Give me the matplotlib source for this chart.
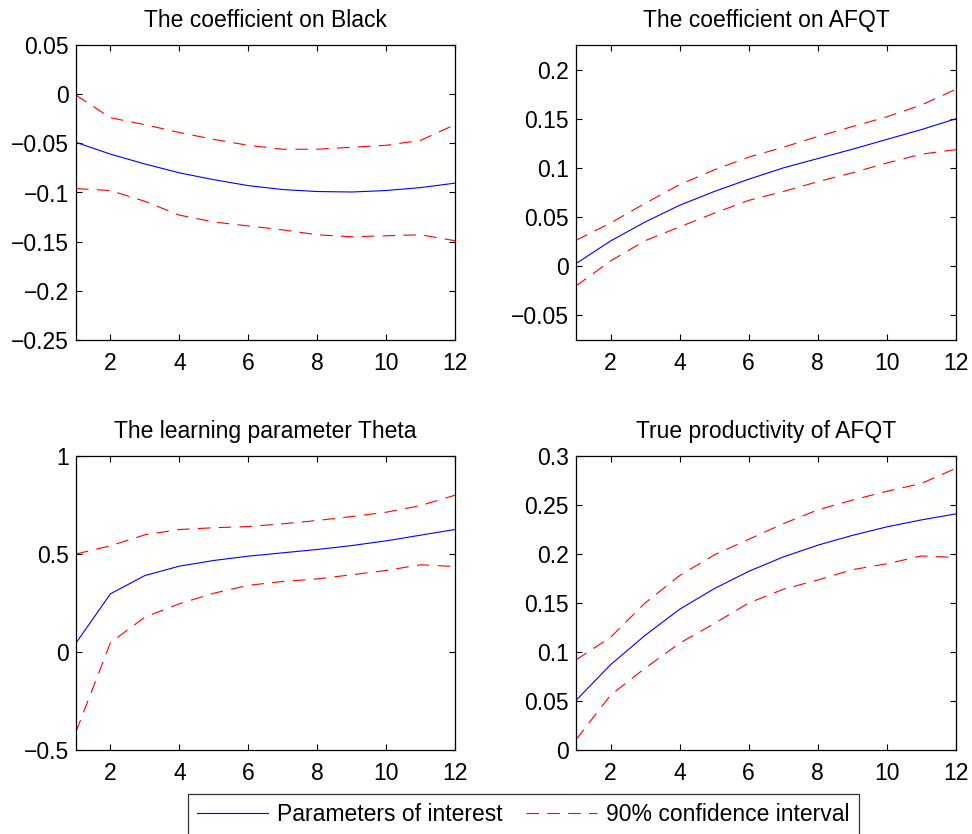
import matplotlib
matplotlib.use('Agg')
import matplotlib.pyplot as plt

plt.rcParams['font.family'] = ['Liberation Sans', 'DejaVu Sans']
plt.rcParams['lines.scale_dashes'] = False

periods = list(range(1, 13))

# The coefficient on Black
black_est = [-0.049, -0.061, -0.071, -0.080, -0.087, -0.093, -0.097, -0.099, -0.0995, -0.098, -0.095, -0.0905]
black_hi = [-0.001, -0.024, -0.031, -0.039, -0.046, -0.052, -0.056, -0.056, -0.054, -0.052, -0.047, -0.031]
black_lo = [-0.096, -0.098, -0.109, -0.123, -0.130, -0.134, -0.138, -0.143, -0.145, -0.144, -0.143, -0.149]

# The coefficient on AFQT
afqt_est = [0.0027, 0.0257, 0.045, 0.062, 0.076, 0.0885, 0.100, 0.1095, 0.119, 0.129, 0.139, 0.150]
afqt_hi = [0.0264, 0.044, 0.064, 0.083, 0.098, 0.111, 0.121, 0.132, 0.142, 0.152, 0.164, 0.180]
afqt_lo = [-0.020, 0.0054, 0.026, 0.040, 0.054, 0.067, 0.076, 0.086, 0.095, 0.105, 0.114, 0.1186]

# The learning parameter Theta
theta_est = [0.046, 0.297, 0.39, 0.438, 0.467, 0.489, 0.506, 0.523, 0.543, 0.567, 0.596, 0.625]
theta_hi = [0.50, 0.542, 0.598, 0.625, 0.634, 0.640, 0.654, 0.671, 0.691, 0.713, 0.747, 0.80]
theta_lo = [-0.407, 0.048, 0.178, 0.246, 0.30, 0.34, 0.36, 0.373, 0.394, 0.416, 0.445, 0.436]

# True productivity of AFQT
prod_est = [0.0506, 0.087, 0.117, 0.1436, 0.1646, 0.1823, 0.197, 0.209, 0.219, 0.2277, 0.2348, 0.241]
prod_hi = [0.092, 0.115, 0.150, 0.178, 0.199, 0.215, 0.231, 0.245, 0.255, 0.264, 0.272, 0.2875]
prod_lo = [0.0105, 0.056, 0.0835, 0.109, 0.129, 0.150, 0.164, 0.1735, 0.184, 0.190, 0.198, 0.1965]

titles = ['The coefficient on Black', 'The coefficient on AFQT',
          'The learning parameter Theta', 'True productivity of AFQT']
ylims = [(-0.25, 0.05), (-0.075, 0.225), (-0.5, 1.0), (0.0, 0.3)]
yticks = [[-0.25, -0.2, -0.15, -0.1, -0.05, 0, 0.05],
          [-0.05, 0, 0.05, 0.1, 0.15, 0.2],
          [-0.5, 0, 0.5, 1],
          [0, 0.05, 0.1, 0.15, 0.2, 0.25, 0.3]]
yticklabels = [['\u22120.25', '\u22120.2', '\u22120.15', '\u22120.1', '\u22120.05', '0', '0.05'],
               ['\u22120.05', '0', '0.05', '0.1', '0.15', '0.2'],
               ['\u22120.5', '0', '0.5', '1'],
               ['0', '0.05', '0.1', '0.15', '0.2', '0.25', '0.3']]
series = [(black_est, black_hi, black_lo), (afqt_est, afqt_hi, afqt_lo),
          (theta_est, theta_hi, theta_lo), (prod_est, prod_hi, prod_lo)]

W, H = 972, 834
fig = plt.figure(figsize=(W / 100, H / 100), dpi=100)

# axes boxes in pixels: left, top, right, bottom
boxes = [(76, 45, 455, 340), (576, 45, 956, 340),
         (76, 456, 455, 750), (576, 456, 956, 750)]

fs = 16.5
dash = (9, 6)
for i in range(4):
    l, t, r, b = boxes[i]
    ax = fig.add_axes([l / W, 1 - b / H, (r - l) / W, (b - t) / H])
    est, hi, lo = series[i]
    ax.plot(periods, est, color='blue', lw=0.8)
    ax.plot(periods, hi, color='red', lw=0.8, dashes=dash)
    ax.plot(periods, lo, color='red', lw=0.8, dashes=dash)
    ax.set_xlim(1, 12)
    ax.set_ylim(*ylims[i])
    ax.set_xticks([2, 4, 6, 8, 10, 12])
    ax.set_yticks(yticks[i])
    ax.set_yticklabels(yticklabels[i])
    ax.tick_params(direction='in', top=True, right=True, length=4, width=0.8,
                   labelsize=fs)
    ax.tick_params(axis='x', pad=9)
    ax.tick_params(axis='y', pad=5)
    for s in ax.spines.values():
        s.set_linewidth(0.9)
    ax.set_title(titles[i], fontsize=fs, pad=13)
    if i == 0:
        h1 = ax.lines[0]
        h2 = ax.lines[1]

leg = fig.legend([h1, h2], ['Parameters of interest', '90% confidence interval'],
                 loc='upper left', bbox_to_anchor=(188 / W, 1 - 794 / H), ncol=2,
                 fontsize=fs, frameon=True, fancybox=False, edgecolor='black',
                 handlelength=3.1, columnspacing=1.0, borderpad=0.4,
                 handletextpad=0.4, borderaxespad=0)
leg.get_frame().set_linewidth(0.9)

fig.savefig('out.png', dpi=100)
